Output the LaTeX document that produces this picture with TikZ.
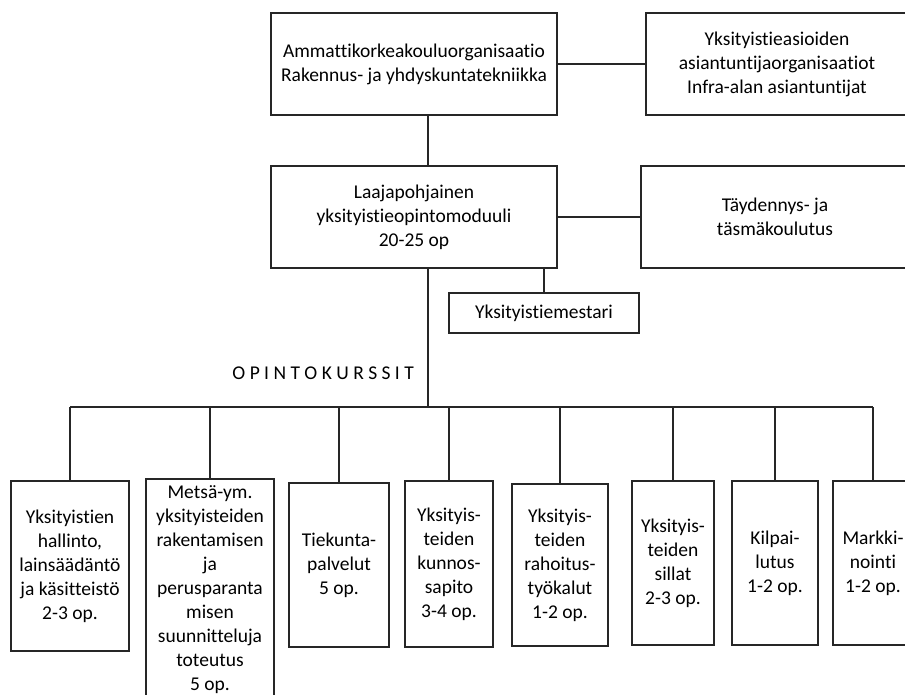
\documentclass[tikz,border=0pt]{standalone}
\usepackage{fontspec}
\setmainfont{Carlito}[Ligatures=NoCommon]
\begin{document}
\begin{tikzpicture}[x=1pt,y=-1pt,
  box/.style={draw=black!85, line width=1.7pt, inner sep=0pt, align=center, fill=white,
    font=\fontsize{19.5}{24}\selectfont},
  txt/.style={inner sep=0pt, align=center, font=\fontsize{19.5}{24}\selectfont},
  link/.style={draw=black!85, line width=1.7pt}]
\useasboundingbox (0,0) rectangle (905,695);
\clip (0,0) rectangle (905,695);
% junction coordinate on the course bar
\coordinate (spine) at (428,407);
% top level
\node[box, minimum width=286, minimum height=102] (top) at (414,64)
  {Ammattikorkeakouluorganisaatio\\Rakennus- ja yhdyskuntatekniikka};
\node[box, minimum width=262, minimum height=102] (exp) at (777,64)
  {Yksityistieasioiden\\asiantuntijaorganisaatiot\\Infra-alan asiantuntijat};
% second level
\node[box, minimum width=286, minimum height=102] (mid) at (414,217)
  {Laajapohjainen\\yksityistieopintomoduuli\\20-25 op};
\node[box, minimum width=268, minimum height=102] (tay) at (775,217)
  {Täydennys- ja\\täsmäkoulutus};
\node[box, minimum width=190, minimum height=40] (mest) at (544,313)
  {Yksityistiemestari};
\node[txt, anchor=east] (lbl) at (414,373) {O P I N T O K U R S S I T};
% courses
\node[box, minimum width=118, minimum height=170] (b1) at (70,566)
  {Yksityistien\\hallinto,\\lainsäädäntö\\ja käsitteistö\\2-3 op.};
\node[box, minimum width=128, minimum height=222] (b2) at (210,590)
  {Metsä-ym.\\yksityisteiden\\rakentamisen\\ja\\perusparanta\\misen\\suunnitteluja\\toteutus\\5 op.};
\node[box, minimum width=100, minimum height=164] (b3) at (339,565)
  {Tiekunta-\\palvelut\\5 op.};
\node[box, minimum width=88, minimum height=166] (b4) at (449,564)
  {Yksityis-\\teiden\\kunnos-\\sapito\\3-4 op.};
\node[box, minimum width=96, minimum height=162] (b5) at (560,565)
  {Yksityis-\\teiden\\rahoitus-\\työkalut\\1-2 op.};
\node[box, minimum width=82, minimum height=164] (b6) at (673,563)
  {Yksityis-\\teiden\\sillat\\2-3 op.};
\node[box, minimum width=86, minimum height=164] (b7) at (775,563)
  {Kilpai-\\lutus\\1-2 op.};
\node[box, minimum width=80, minimum height=164] (b8) at (873,563)
  {Markki-\\nointi\\1-2 op.};
% connectors
\draw[link] (top.east) -- (exp.west);
\draw[link] (mid.east) -- (tay.west);
\draw[link] (top.south -| spine) -- (mid.north -| spine);
\draw[link] (mid.south -| spine) -- (spine);
\draw[link] (mest.north) -- (mest.north |- mid.south);
\draw[link] (b1.north |- spine) -- (b8.north |- spine);
\foreach \b in {b1,b2,b3,b4,b5,b6,b7,b8}
  \draw[link] (\b.north) -- (\b.north |- spine);
\end{tikzpicture}
\end{document}
